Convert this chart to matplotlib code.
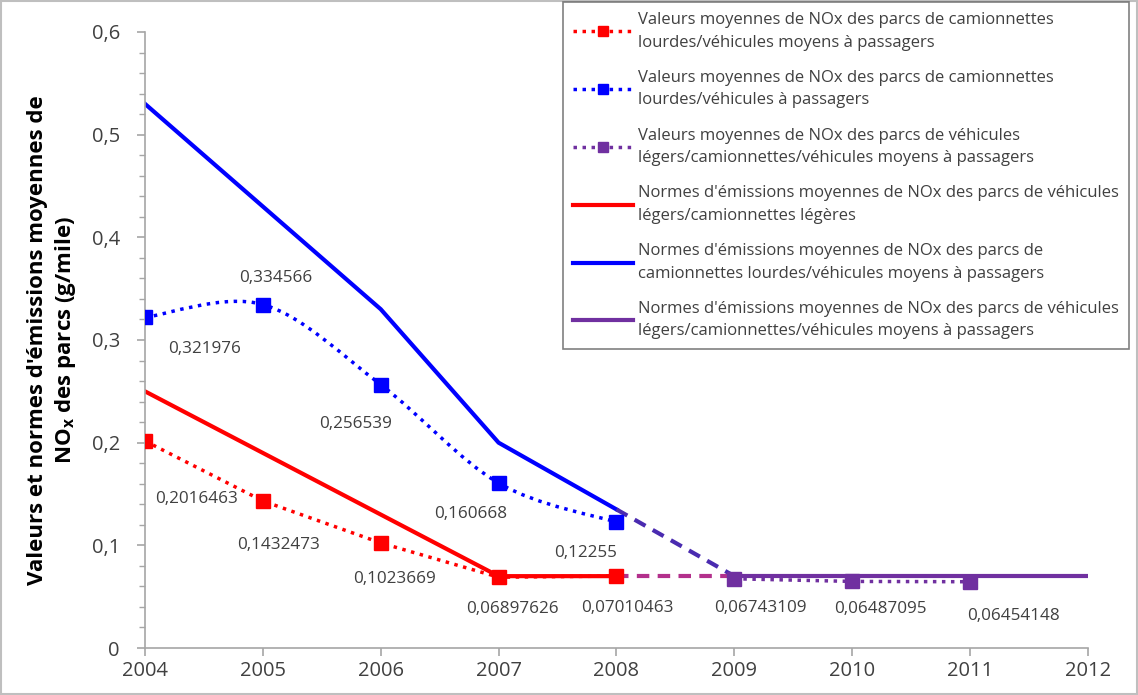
import matplotlib
matplotlib.use("Agg")
import matplotlib.pyplot as plt
import numpy as np
from matplotlib.lines import Line2D
from matplotlib.path import Path
from matplotlib.patches import PathPatch, Rectangle

plt.rcParams["font.family"] = ["Open Sans", "DejaVu Sans"]

years = [2004, 2005, 2006, 2007, 2008, 2009, 2010, 2011, 2012]

# measured fleet averages
red_years = [2004, 2005, 2006, 2007, 2008]
red_vals = [0.2016463, 0.1432473, 0.1023669, 0.06897626, 0.07010463]
red_text = ["0,2016463", "0,1432473", "0,1023669", "0,06897626", "0,07010463"]

blue_years = [2004, 2005, 2006, 2007, 2008]
blue_vals = [0.321976, 0.334566, 0.256539, 0.160668, 0.12255]
blue_text = ["0,321976", "0,334566", "0,256539", "0,160668", "0,12255"]

purple_years = [2009, 2010, 2011]
purple_vals = [0.06743109, 0.06487095, 0.06454148]
purple_text = ["0,06743109", "0,06487095", "0,06454148"]

# standards
red_std_years = [2004, 2005, 2006, 2007, 2008]
red_std_vals = [0.25, 0.19, 0.13, 0.07, 0.07]
blue_std_years = [2004, 2005, 2006, 2007, 2008]
blue_std_vals = [0.53, 0.43, 0.33, 0.20, 0.135]
purple_std_years = [2009, 2010, 2011, 2012]
purple_std_vals = [0.07, 0.07, 0.07, 0.07]

y_ticks = [0, 0.1, 0.2, 0.3, 0.4, 0.5, 0.6]
y_tick_labels = ["0", "0,1", "0,2", "0,3", "0,4", "0,5", "0,6"]

legend_labels = [
    "Valeurs moyennes de NOx des parcs de camionnettes\nlourdes/véhicules moyens à passagers",
    "Valeurs moyennes de NOx des parcs de camionnettes\nlourdes/véhicules à passagers",
    "Valeurs moyennes de NOx des parcs de véhicules\nlégers/camionnettes/véhicules moyens à passagers",
    "Normes d'émissions moyennes de NOx des parcs de véhicules\nlégers/camionnettes légères",
    "Normes d'émissions moyennes de NOx des parcs de\ncamionnettes lourdes/véhicules moyens à passagers",
    "Normes d'émissions moyennes de NOx des parcs de véhicules\nlégers/camionnettes/véhicules moyens à passagers",
]

RED = "#FF0000"
BLUE = "#0000FF"
PURPLE = "#7030A0"
TXT = "#404040"
AXC = "#A6A6A6"
DOT = (0, (1, 1.6))


def smooth_path(xs, ys):
    # Excel-style smoothed line: cubic Bezier through the points
    pts = np.column_stack([xs, ys]).astype(float)
    n = len(pts)
    verts = [pts[0]]
    codes = [Path.MOVETO]
    for i in range(n - 1):
        p_prev = pts[i - 1] if i > 0 else pts[i]
        p_next2 = pts[i + 2] if i + 2 < n else pts[i + 1]
        c1 = pts[i] + (pts[i + 1] - p_prev) / 6
        c2 = pts[i + 1] - (p_next2 - pts[i]) / 6
        verts += [c1, c2, pts[i + 1]]
        codes += [Path.CURVE4] * 3
    return Path(verts, codes)


fig = plt.figure(figsize=(11.38, 6.95), dpi=100)
ax = fig.add_axes([0.1274, 0.0676, 0.8286, 0.8864])

# standards (solid)
ax.plot(red_std_years, red_std_vals, color=RED, lw=3, zorder=2)
ax.plot(blue_std_years, blue_std_vals, color=BLUE, lw=3, zorder=2)
ax.plot(purple_std_years, purple_std_vals, color=PURPLE, lw=3, zorder=2)
# dashed transitions into the harmonised standard
ax.plot([blue_std_years[-1], purple_std_years[0]], [blue_std_vals[-1], purple_std_vals[0]],
        color="#4A2BB0", lw=3, ls=(0, (3, 2)), zorder=2)
ax.plot([red_std_years[-1], purple_std_years[0]], [red_std_vals[-1], purple_std_vals[0]],
        color="#B3308C", lw=3, ls=(0, (3, 2)), zorder=2)

# measured values (dotted with markers)
ax.plot(red_years, red_vals, color=RED, lw=2.5, ls=DOT, marker="s", ms=10, zorder=4)
ax.add_patch(PathPatch(smooth_path(blue_years, blue_vals), fill=False, edgecolor=BLUE,
                       lw=2.5, ls=DOT, zorder=4))
ax.plot(blue_years, blue_vals, color=BLUE, ls="none", marker="s", ms=10, zorder=5)
ax.plot(purple_years, purple_vals, color=PURPLE, lw=2.5, ls=DOT, marker="s", ms=10, zorder=4)

# data labels (offsets in points)
red_off = [(37, -42), (11, -32), (10, -26), (10, -23), (8, -23)]
blue_off = [(43, -23), (9, 19), (-18, -28), (-20, -22), (-22, -22)]
purple_off = [(19, -21), (20, -20), (31, -25)]
for xs, vs, ts, offs in [(red_years, red_vals, red_text, red_off),
                         (blue_years, blue_vals, blue_text, blue_off),
                         (purple_years, purple_vals, purple_text, purple_off)]:
    for x, v, t, o in zip(xs, vs, ts, offs):
        ax.annotate(t, (x, v), xytext=o, textcoords="offset points", ha="center",
                    va="center", fontsize=12.3, color=TXT, zorder=6)

ax.set_xlim(years[0], years[-1])
ax.set_ylim(0, 0.6)
ax.set_xticks(years)
ax.set_xticklabels([str(y) for y in years])
ax.set_yticks(y_ticks)
ax.set_yticklabels(y_tick_labels)
ax.set_yticks(np.arange(0, 0.6, 0.02), minor=True)
for s in ["top", "right"]:
    ax.spines[s].set_visible(False)
for s in ["left", "bottom"]:
    ax.spines[s].set_color(AXC)
    ax.spines[s].set_linewidth(1.2)
ax.tick_params(axis="both", which="major", colors=AXC, labelcolor=TXT, labelsize=14.5,
               length=6, width=1.2)
ax.tick_params(axis="y", which="minor", colors=AXC, length=4, width=1)
ax.tick_params(axis="y", pad=12)
ax.tick_params(axis="x", pad=3)

ax.set_ylabel("Valeurs et normes d'émissions moyennes de\nNO$_\\mathregular{x}$ des parcs (g/mile)",
              fontsize=16, fontweight="bold", color="black", labelpad=10, linespacing=1.25)

handles = [
    Line2D([], [], color=RED, lw=2.5, ls=DOT, marker="s", ms=7),
    Line2D([], [], color=BLUE, lw=2.5, ls=DOT, marker="s", ms=7),
    Line2D([], [], color=PURPLE, lw=2.5, ls=DOT, marker="s", ms=7),
    Line2D([], [], color=RED, lw=3),
    Line2D([], [], color=BLUE, lw=3),
    Line2D([], [], color=PURPLE, lw=3),
]
leg = fig.legend(handles, legend_labels, loc="upper left", bbox_to_anchor=(563 / 1138, 1 - 2 / 695),
                 fontsize=12, frameon=True, fancybox=False, edgecolor="#606060",
                 handlelength=3.6, labelspacing=1.15, borderpad=0.6, handletextpad=0.3,
                 borderaxespad=0)
leg.get_frame().set_linewidth(1.2)
for t in leg.get_texts():
    t.set_color(TXT)
    t.set_linespacing(1.55)

fig.patches.append(Rectangle((0.001, 0.001), 0.998, 0.997, transform=fig.transFigure,
                             fill=False, edgecolor="#BFBFBF", lw=1.5))

fig.savefig("out.png", dpi=100)
